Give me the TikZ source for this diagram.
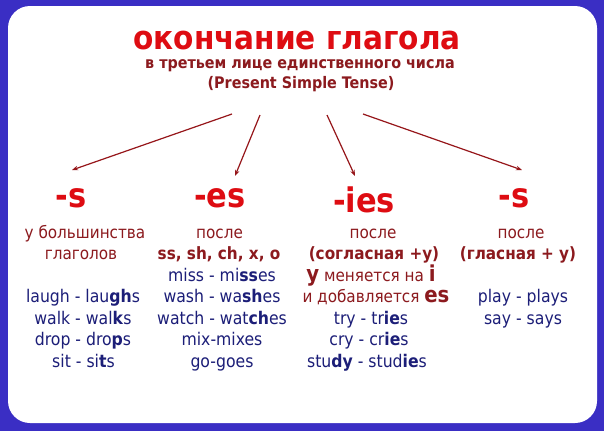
\documentclass[tikz,border=0pt]{standalone}
\usepackage{fontspec}
\setmainfont{DejaVu Sans Condensed}
\usetikzlibrary{arrows.meta}
\definecolor{bgblue}{RGB}{58,46,196}
\definecolor{hdrred}{RGB}{222,12,18}
\definecolor{darkred}{RGB}{140,26,30}
\definecolor{arrred}{RGB}{150,22,26}
\definecolor{navy}{RGB}{28,30,120}
\tikzset{
  ttl/.style={font=\bfseries\fontsize{33}{33}\selectfont, text=hdrred, anchor=base, inner sep=0pt, text depth=0pt},
  sub/.style={font=\bfseries\fontsize{16}{16}\selectfont, text=darkred, anchor=base, inner sep=0pt},
  hdr/.style={font=\bfseries\fontsize{34}{34}\selectfont, text=hdrred, anchor=base, inner sep=0pt},
  ru/.style={font=\fontsize{17}{17}\selectfont, text=darkred, anchor=base, inner sep=0pt},
  rub/.style={font=\bfseries\fontsize{17}{17}\selectfont, text=darkred, anchor=base, inner sep=0pt},
  en/.style={font=\fontsize{17.5}{17.5}\selectfont, text=navy, anchor=base, inner sep=0pt},
  arr/.style={draw=arrred, line width=1.2bp, -{Stealth[length=6bp,width=4.5bp]}}
}
\newcommand{\bigb}[1]{{\bfseries\fontsize{22}{22}\selectfont #1}}
\begin{document}
\begin{tikzpicture}[x=1bp,y=-1bp]
\useasboundingbox (0,0) rectangle (604,431);
\fill[bgblue] (0,0) rectangle (604,431);
\fill[white, rounded corners=22bp] (8,6) rectangle (597,423);

% title
\node[ttl] (title) at (297,49) {окончание глагола};
\node[sub] (sub1) at (300,68) {в третьем лице единственного числа};
\node[sub] (sub2) at (301,88) {(Present Simple Tense)};

% arrows
\coordinate (a1s) at (232,114);
\coordinate (a1e) at (72,170);
\coordinate (a2s) at (260,115);
\coordinate (a2e) at (235,176);
\coordinate (a3s) at (327,115);
\coordinate (a3e) at (355,176);
\coordinate (a4s) at (363,114);
\coordinate (a4e) at (522,170);
\draw[arr] (a1s) -- (a1e);
\draw[arr] (a2s) -- (a2e);
\draw[arr] (a3s) -- (a3e);
\draw[arr] (a4s) -- (a4e);

% headers
\node[hdr] (h1) at (71,207) {-s};
\node[hdr] (h2) at (220,207) {-es};
\node[hdr] (h3) at (364,212) {-ies};
\node[hdr] (h4) at (514,207) {-s};

% column 1
\node[ru] (c1a) at (85,238) {у большинства};
\node[ru] (c1b) at (81,259.5) {глаголов};
\node[en] (c1c) at (83,302.5) {laugh - lau\textbf{gh}s};
\node[en] (c1d) at (83,324) {walk - wal\textbf{k}s};
\node[en] (c1e) at (83,345.5) {drop - dro\textbf{p}s};
\node[en] (c1f) at (83.5,367) {sit - si\textbf{t}s};

% column 2
\node[ru] (c2a) at (219.5,238) {после};
\node[rub] (c2b) at (219,259.5) {ss, sh, ch, x, o};
\node[en] (c2c) at (222,281) {miss - mi\textbf{ss}es};
\node[en] (c2d) at (222,302.5) {wash - wa\textbf{sh}es};
\node[en] (c2e) at (222,324) {watch - wat\textbf{ch}es};
\node[en] (c2f) at (222,345.5) {mix-mixes};
\node[en] (c2g) at (222,367) {go-goes};

% column 3
\node[ru] (c3a) at (373,238) {после};
\node[rub] (c3b) at (374,259.5) {(согласная +y)};
\node[ru] (c3c) at (371,281) {\bigb{y} меняется на \bigb{i}};
\node[ru] (c3d) at (376,302.5) {и добавляется \bigb{es}};
\node[en] (c3e) at (371,324) {try - tr\textbf{ie}s};
\node[en] (c3f) at (369,345.5) {cry - cr\textbf{ie}s};
\node[en] (c3g) at (367,367) {stu\textbf{dy} - stud\textbf{ie}s};

% column 4
\node[ru] (c4a) at (521,238) {после};
\node[rub] (c4b) at (518,259.5) {(гласная + y)};
\node[en] (c4c) at (523,302.5) {play - plays};
\node[en] (c4d) at (523,324) {say - says};
\end{tikzpicture}
\end{document}
